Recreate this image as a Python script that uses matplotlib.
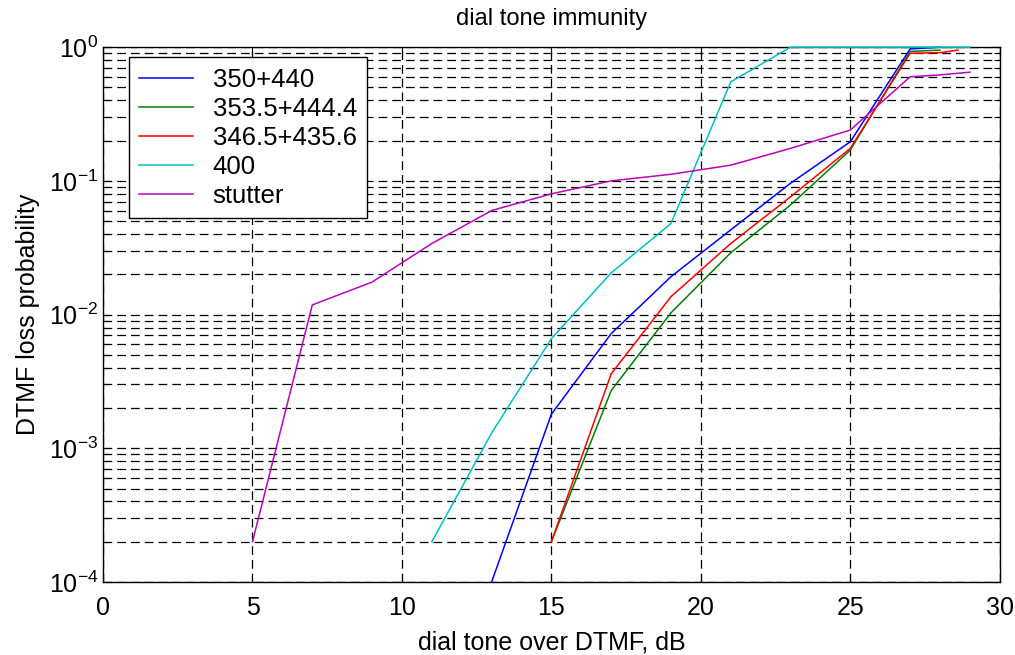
import numpy as np
import matplotlib
matplotlib.use('Agg')
import matplotlib.pyplot as plt

plt.rcParams['font.family'] = ['Liberation Sans', 'DejaVu Sans']
plt.rcParams['mathtext.fontset'] = 'custom'
plt.rcParams['mathtext.rm'] = 'Liberation Sans'
plt.rcParams['mathtext.it'] = 'Liberation Sans'

# values
x_blue = [13, 15, 17, 19, 21, 23, 25, 27, 28]
y_blue = [1.0e-4, 1.8e-3, 7.2e-3, 1.92e-2, 4.3e-2, 9.6e-2, 0.196, 0.97, 1.0]

x_green = [15, 17, 19, 21, 23, 25, 27, 28]
y_green = [2.0e-4, 2.7e-3, 1.03e-2, 2.9e-2, 6.6e-2, 0.17, 0.93, 0.95]

x_red = [15, 17, 19, 21, 23, 25, 27, 28, 28.6]
y_red = [2.0e-4, 3.6e-3, 1.36e-2, 3.4e-2, 7.6e-2, 0.175, 0.90, 0.91, 0.95]

x_cyan = [11, 13, 15, 17, 19, 21, 23, 25, 27, 29]
y_cyan = [2.0e-4, 1.3e-3, 6.6e-3, 2.05e-2, 4.8e-2, 0.55, 1.0, 1.0, 1.0, 1.0]

x_stut = [5, 7, 9, 11, 13, 15, 17, 19, 21, 23, 25, 27, 28, 29]
y_stut = [2.0e-4, 1.18e-2, 1.75e-2, 3.4e-2, 6.0e-2, 8.0e-2, 0.100, 0.112, 0.131,
          0.175, 0.24, 0.60, 0.62, 0.65]

labels = ['350+440', '353.5+444.4', '346.5+435.6', '400', 'stutter']
colors = [(0, 0, 1), (0, 0.5, 0), (1, 0, 0), (0, 0.75, 0.75), (0.75, 0, 0.75)]
series = [(x_blue, y_blue), (x_green, y_green), (x_red, y_red),
          (x_cyan, y_cyan), (x_stut, y_stut)]

fig = plt.figure(figsize=(10.15, 6.55), dpi=100)
ax = fig.add_axes([0.1015, 0.1115, 0.8835, 0.8165])

for (xs, ys), c, lab in zip(series, colors, labels):
    ax.plot(xs, ys, color=c, lw=1.1, label=lab, clip_on=False, zorder=3)

ax.set_yscale('log')
ax.set_xlim(0, 30)
ax.set_ylim(1e-4, 1)
ax.set_xticks(np.arange(0, 31, 5))
ax.set_yticks([1e-4, 1e-3, 1e-2, 1e-1, 1])
ax.set_yticklabels([r'$10^{-4}$', r'$10^{-3}$', r'$10^{-2}$', r'$10^{-1}$', r'$10^{0}$'])

ax.grid(True, which='major', color='k', lw=0.9, linestyle=(0, (7, 4)))
ax.grid(True, which='minor', axis='y', color='k', lw=0.9, linestyle=(0, (7, 4)))
ax.tick_params(which='both', direction='in', top=True, right=True,
               labelsize=18, width=0.8)
ax.tick_params(axis='x', pad=10)
ax.tick_params(which='major', length=6)
ax.tick_params(which='minor', length=4)
for s in ax.spines.values():
    s.set_linewidth(1.0)
    s.set_color('k')

ax.set_title('dial tone immunity', fontsize=17, pad=16)
ax.set_xlabel('dial tone over DTMF, dB', fontsize=18, labelpad=8)
ax.set_ylabel('DTMF loss probability', fontsize=18, labelpad=6)

leg = ax.legend(loc='upper left', bbox_to_anchor=(0.029, 0.981), borderaxespad=0,
                fontsize=18.5, fancybox=False, framealpha=1, edgecolor='k',
                handlelength=2.1, handletextpad=0.75, labelspacing=0.2,
                borderpad=0.4)
leg.get_frame().set_linewidth(1.0)

fig.savefig('out.png', dpi=100)
